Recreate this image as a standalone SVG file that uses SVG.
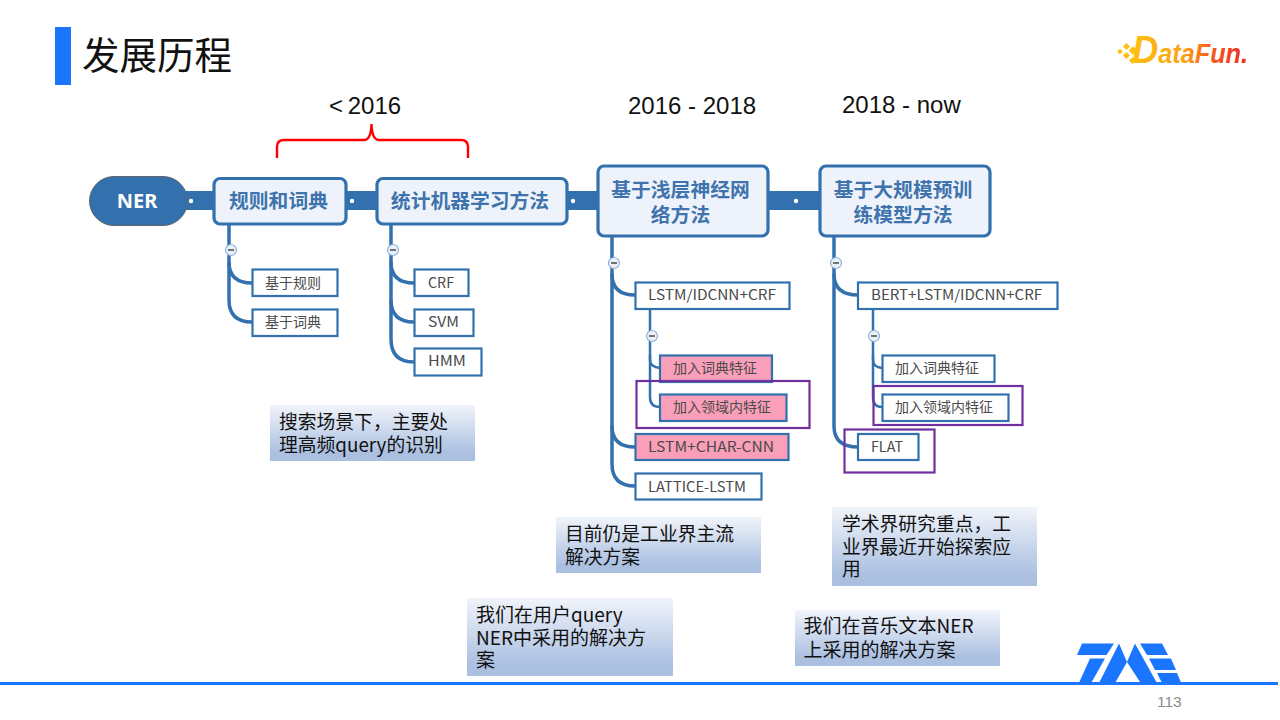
<svg xmlns="http://www.w3.org/2000/svg" width="1280" height="720" viewBox="0 0 1280 720">
<style>
text{font-family:"Noto Sans CJK SC","Noto Sans",sans-serif}
.bar{fill:#3370ae}
.tr{fill:none;stroke:#3370ae;stroke-width:3.5}
.tr2{fill:none;stroke:#3370ae;stroke-width:2.5}
.dot{fill:#fff}
.main rect{fill:#eef3fb;stroke:#3370ae;stroke-width:3.2}
.main text{font-size:19.800px;font-weight:700;fill:#3f73ad;text-anchor:middle}
.sub rect{fill:#fff;stroke:#3370ae;stroke-width:2.2}
.sub.pink rect{fill:#fa9fb9}
.sub text{font-size:14px;fill:#4a4a4a}
.tog circle{fill:#e9f0f9;stroke:#8fb2d8;stroke-width:1.2}
.tog path{stroke:#555;stroke-width:1.6}
.pur{fill:none;stroke:#7030a0;stroke-width:2.2}
.note rect{fill:url(#ng)}
.note text{font-size:18.800px;fill:#111}
.note.wide text{font-size:19px}
.hd{font-family:"Liberation Sans",Arial,sans-serif;font-size:24px;fill:#111}
</style>
<defs>
<linearGradient id="ng" x1="0" y1="0" x2="0" y2="1">
<stop offset="0" stop-color="#f1f4fa"/><stop offset=".85" stop-color="#abc0e1"/><stop offset="1" stop-color="#abc0e1"/>
</linearGradient>
<linearGradient id="lg" x1="0" y1="0" x2="1" y2="0">
<stop offset="0" stop-color="#fdc010"/><stop offset=".45" stop-color="#fca012"/><stop offset=".7" stop-color="#f9561b"/><stop offset="1" stop-color="#ee2a1c"/>
</linearGradient>
</defs>

<g id="title">
<rect x="55" y="27" width="16" height="58" fill="#1a75ff"/>
<text x="82" y="69" font-size="37.500" fill="#111">发展历程</text>
</g>

<g id="logo-datafun">
<g fill="#fdc010">
<rect x="1118" y="49.500" width="4" height="4" transform="rotate(45 1120 51.500)"/>
<rect x="1124" y="44" width="5" height="5" transform="rotate(45 1126.500 46.500)"/>
<rect x="1124" y="53" width="5" height="5" transform="rotate(45 1126.500 55.500)"/>
<rect x="1130" y="47.500" width="6" height="6" transform="rotate(45 1133 50.500)"/>
<rect x="1130" y="58" width="5" height="5" transform="rotate(45 1132.500 60.500)"/>
</g>
<text x="1132" y="63" font-weight="700" font-style="italic" fill="url(#lg)" textLength="116" lengthAdjust="spacingAndGlyphs" style="font-family:'Liberation Sans',sans-serif"><tspan font-size="39">D</tspan><tspan font-size="27">ataFun.</tspan></text>
</g>

<g id="headers">
<text class="hd" x="329" y="114" word-spacing="-2">&lt; 2016</text>
<text class="hd" x="628" y="114">2016 - 2018</text>
<text class="hd" x="842" y="113">2018 - now</text>
<path d="M277 158V147Q277 140 284 140H364Q371 140 371.500 124Q372 140 379 140H461Q468 140 468 147V158" fill="none" stroke="#f00" stroke-width="2.400"/>
</g>

<g id="connectors">
<rect class="bar" x="185" y="191" width="640" height="19"/>
<path class="tr" d="M229 225V262Q229 283 252 283"/>
<path class="tr" d="M229 262V300Q229 322 252 322"/>
<path class="tr" d="M391 225V262Q391 283 414 283"/>
<path class="tr" d="M391 262V300Q391 322 414 322"/>
<path class="tr" d="M391 300V339Q391 362 414 362"/>
<path class="tr" d="M612 237V274Q612 295 635 295"/>
<path class="tr" d="M612 274V426Q612 447 635 447"/>
<path class="tr" d="M612 426V464Q612 486 635 486"/>
<path class="tr2" d="M650 309V360Q650 367 660 368"/>
<path class="tr2" d="M650 355V397Q650 407 660 407"/>
<path class="tr" d="M834 237V274Q834 295 858 295"/>
<path class="tr" d="M834 274V426Q834 447 858 447"/>
<path class="tr2" d="M873 309V360Q873 367 882 368"/>
<path class="tr2" d="M873 355V397Q873 407 882 407"/>
<g class="dot">
<circle cx="191" cy="201" r="2.200"/><circle cx="352" cy="201" r="2.200"/><circle cx="573" cy="201" r="2.200"/><circle cx="796" cy="201" r="2.200"/>
</g>
<g class="tog">
<circle cx="231" cy="250" r="5.500"/><path d="M228 250h6"/>
<circle cx="393" cy="250" r="5.500"/><path d="M390 250h6"/>
<circle cx="614" cy="263" r="5.500"/><path d="M611 263h6"/>
<circle cx="652" cy="336" r="5.500"/><path d="M649 336h6"/>
<circle cx="836" cy="263" r="5.500"/><path d="M833 263h6"/>
<circle cx="874" cy="336" r="5.500"/><path d="M871 336h6"/>
</g>
</g>

<g id="node-ner">
<rect x="89.500" y="176.500" width="98" height="49" rx="24.500" fill="#3370ae" stroke="#666" stroke-width="1"/>
<text x="137" y="208" font-size="20" font-weight="700" fill="#fff" text-anchor="middle" style="font-family:'Noto Sans',sans-serif">NER</text>
</g>
<g id="node-rules" class="main"><rect x="214" y="178.500" width="132" height="45.500" rx="6"/><text x="278.500" y="208">规则和词典</text></g>
<g id="node-stat" class="main"><rect x="377" y="178.500" width="190" height="45.500" rx="6"/><text x="470" y="208">统计机器学习方法</text></g>
<g id="node-shallow" class="main"><rect x="598" y="166" width="170" height="70" rx="6"/><text x="680.500" y="197">基于浅层神经网</text><text x="680.500" y="222">络方法</text></g>
<g id="node-large" class="main"><rect x="820" y="166" width="170" height="70" rx="6"/><text x="903" y="197">基于大规模预训</text><text x="903" y="222">练模型方法</text></g>

<g id="s1" class="sub"><rect x="252.500" y="269.500" width="85" height="26.500"/><text x="265" y="288">基于规则</text></g>
<g id="s2" class="sub"><rect x="252.500" y="309.500" width="85" height="26.500"/><text x="265" y="327">基于词典</text></g>
<g id="s3" class="sub"><rect x="414.500" y="269.500" width="54" height="26.500"/><text x="428" y="287.500" textLength="26" lengthAdjust="spacingAndGlyphs">CRF</text></g>
<g id="s4" class="sub"><rect x="414.500" y="309.500" width="59" height="26.500"/><text x="428" y="327" textLength="31" lengthAdjust="spacingAndGlyphs">SVM</text></g>
<g id="s5" class="sub"><rect x="414.500" y="348.500" width="67" height="27"/><text x="428" y="366" textLength="38" lengthAdjust="spacingAndGlyphs">HMM</text></g>
<g id="s6" class="sub"><rect x="635.500" y="282.500" width="154" height="26.500"/><text x="648" y="300" textLength="128" lengthAdjust="spacingAndGlyphs">LSTM/IDCNN+CRF</text></g>
<g id="s7" class="sub pink"><rect x="660" y="355.500" width="112" height="26.500"/><text x="673" y="373">加入词典特征</text></g>
<g id="s8" class="sub pink"><rect x="660" y="394.500" width="126.500" height="26.500"/><text x="673" y="412">加入领域内特征</text></g>
<g id="s9" class="sub pink"><rect x="635.500" y="434" width="153" height="26"/><text x="648" y="452" textLength="126" lengthAdjust="spacingAndGlyphs">LSTM+CHAR-CNN</text></g>
<g id="s10" class="sub"><rect x="635.500" y="473.500" width="126" height="26"/><text x="648" y="491.500" textLength="98" lengthAdjust="spacingAndGlyphs">LATTICE-LSTM</text></g>
<g id="s11" class="sub"><rect x="858" y="282.500" width="199.500" height="26.500"/><text x="871" y="300" textLength="171" lengthAdjust="spacingAndGlyphs">BERT+LSTM/IDCNN+CRF</text></g>
<g id="s12" class="sub"><rect x="882.500" y="355.500" width="112" height="26.500"/><text x="895" y="373">加入词典特征</text></g>
<g id="s13" class="sub"><rect x="882.500" y="394.500" width="126" height="26.500"/><text x="895" y="412">加入领域内特征</text></g>
<g id="s14" class="sub"><rect x="858" y="434" width="60.500" height="26"/><text x="871" y="452" textLength="32" lengthAdjust="spacingAndGlyphs">FLAT</text></g>

<g id="highlights">
<rect class="pur" x="636.500" y="381" width="173" height="47"/>
<rect class="pur" x="873.500" y="386" width="149" height="39"/>
<rect class="pur" x="844.500" y="429.500" width="90" height="43"/>
</g>

<g id="note1" class="note"><rect x="270" y="405" width="205" height="56"/><text x="279" y="429">搜索场景下，主要处</text><text x="279" y="452">理高频query的识别</text></g>
<g id="note2" class="note"><rect x="556" y="517" width="205" height="56"/><text x="565" y="541">目前仍是工业界主流</text><text x="565" y="564">解决方案</text></g>
<g id="note3" class="note wide"><rect x="467" y="598" width="206" height="78"/><text x="476" y="622">我们在用户query</text><text x="476" y="645">NER中采用的解决方</text><text x="476" y="667">案</text></g>
<g id="note4" class="note"><rect x="832" y="507" width="205" height="79"/><text x="842" y="531">学术界研究重点，工</text><text x="842" y="554">业界最近开始探索应</text><text x="842" y="576">用</text></g>
<g id="note5" class="note wide"><rect x="795" y="610" width="205" height="56"/><text x="803.500" y="633">我们在音乐文本NER</text><text x="803.500" y="657">上采用的解决方案</text></g>

<g id="footer">
<rect x="0" y="682" width="1278" height="3" fill="#1a75ff"/>
<g fill="#1a75ff">
<polygon points="1082,643.500 1114,643.500 1106.500,655 1077,655"/>
<polygon points="1090,658.500 1105,658.500 1090,685 1078,685"/>
<polygon points="1119,643.500 1127,662 1114,685 1098,685"/>
<polygon points="1135,643.500 1158,685 1142,685 1127,662"/>
<polygon points="1140,643.500 1162,643.500 1168,655 1147,655"/>
<polygon points="1149,658.500 1171,658.500 1176,670 1155,670"/>
<polygon points="1157,673 1177,673 1182,685 1163,685"/>
</g>
<text x="1157" y="707" font-size="15.500" fill="#8c8c8c" style="font-family:'Liberation Sans',Arial,sans-serif">113</text>
</g>
</svg>
